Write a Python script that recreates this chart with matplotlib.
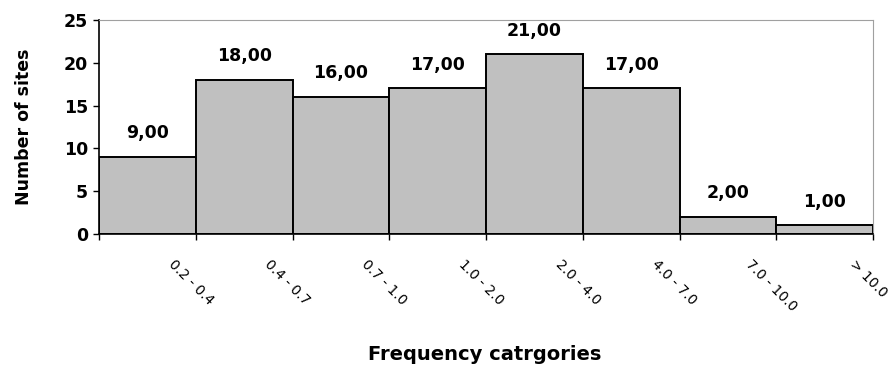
import matplotlib
matplotlib.use("Agg")
import matplotlib.pyplot as plt
import matplotlib.transforms as mtransforms
import numpy as np

categories = ["0.2 - 0.4", "0.4 - 0.7", "0.7 - 1.0", "1.0 - 2.0",
              "2.0 - 4.0", "4.0 - 7.0", "7.0 - 10.0", "> 10.0"]
counts = [9, 18, 16, 17, 21, 17, 2, 1]
yticks = [0, 5, 10, 15, 20, 25]

plt.rcParams['font.family'] = ['DejaVu Sans']

fig = plt.figure(figsize=(8.92, 3.69), dpi=100)
ax = fig.add_axes([99/892, (369-234)/369, (873-99)/892, (234-20)/369])

x = np.arange(len(counts))
ax.bar(x, counts, width=1.0, align='edge', color='#c0c0c0',
       edgecolor='black', linewidth=1.4, zorder=2)

for xi, v in zip(x, counts):
    ax.annotate(f"{v:.2f}".replace('.', ','), (xi + 0.5, v),
                xytext=(0, 17), textcoords='offset points',
                ha='center', va='center', fontsize=12.5, fontweight='bold')

ax.set_xlim(0, len(counts))
ax.set_ylim(0, 25)
ax.set_yticks(yticks)
ax.set_yticklabels([str(t) for t in yticks], fontsize=12.5, fontweight='bold')

ax.set_xticks(np.arange(len(counts) + 1))
ax.set_xticklabels([""] + categories, rotation=-45, ha='center', va='top',
                   fontsize=10)
ax.tick_params(axis='x', direction='out', length=4, width=1, pad=13)
ax.tick_params(axis='y', direction='out', length=4, width=1, pad=4)
shift = mtransforms.ScaledTranslation(-5/100, 0, fig.dpi_scale_trans)
for lab in ax.get_xticklabels():
    lab.set_transform(lab.get_transform() + shift)

ax.spines['left'].set_color('black')
ax.spines['left'].set_linewidth(1.2)
ax.spines['bottom'].set_color('black')
ax.spines['bottom'].set_linewidth(1.2)
ax.spines['top'].set_color('#a0a0a0')
ax.spines['right'].set_color('#a0a0a0')

ax.set_ylabel("Number of sites", fontsize=12.5, fontweight='bold', labelpad=22)
fig.text(485/892, (369-355)/369, "Frequency catrgories", ha='center',
         va='center', fontsize=14, fontweight='bold')

fig.savefig("out.png", dpi=100)
